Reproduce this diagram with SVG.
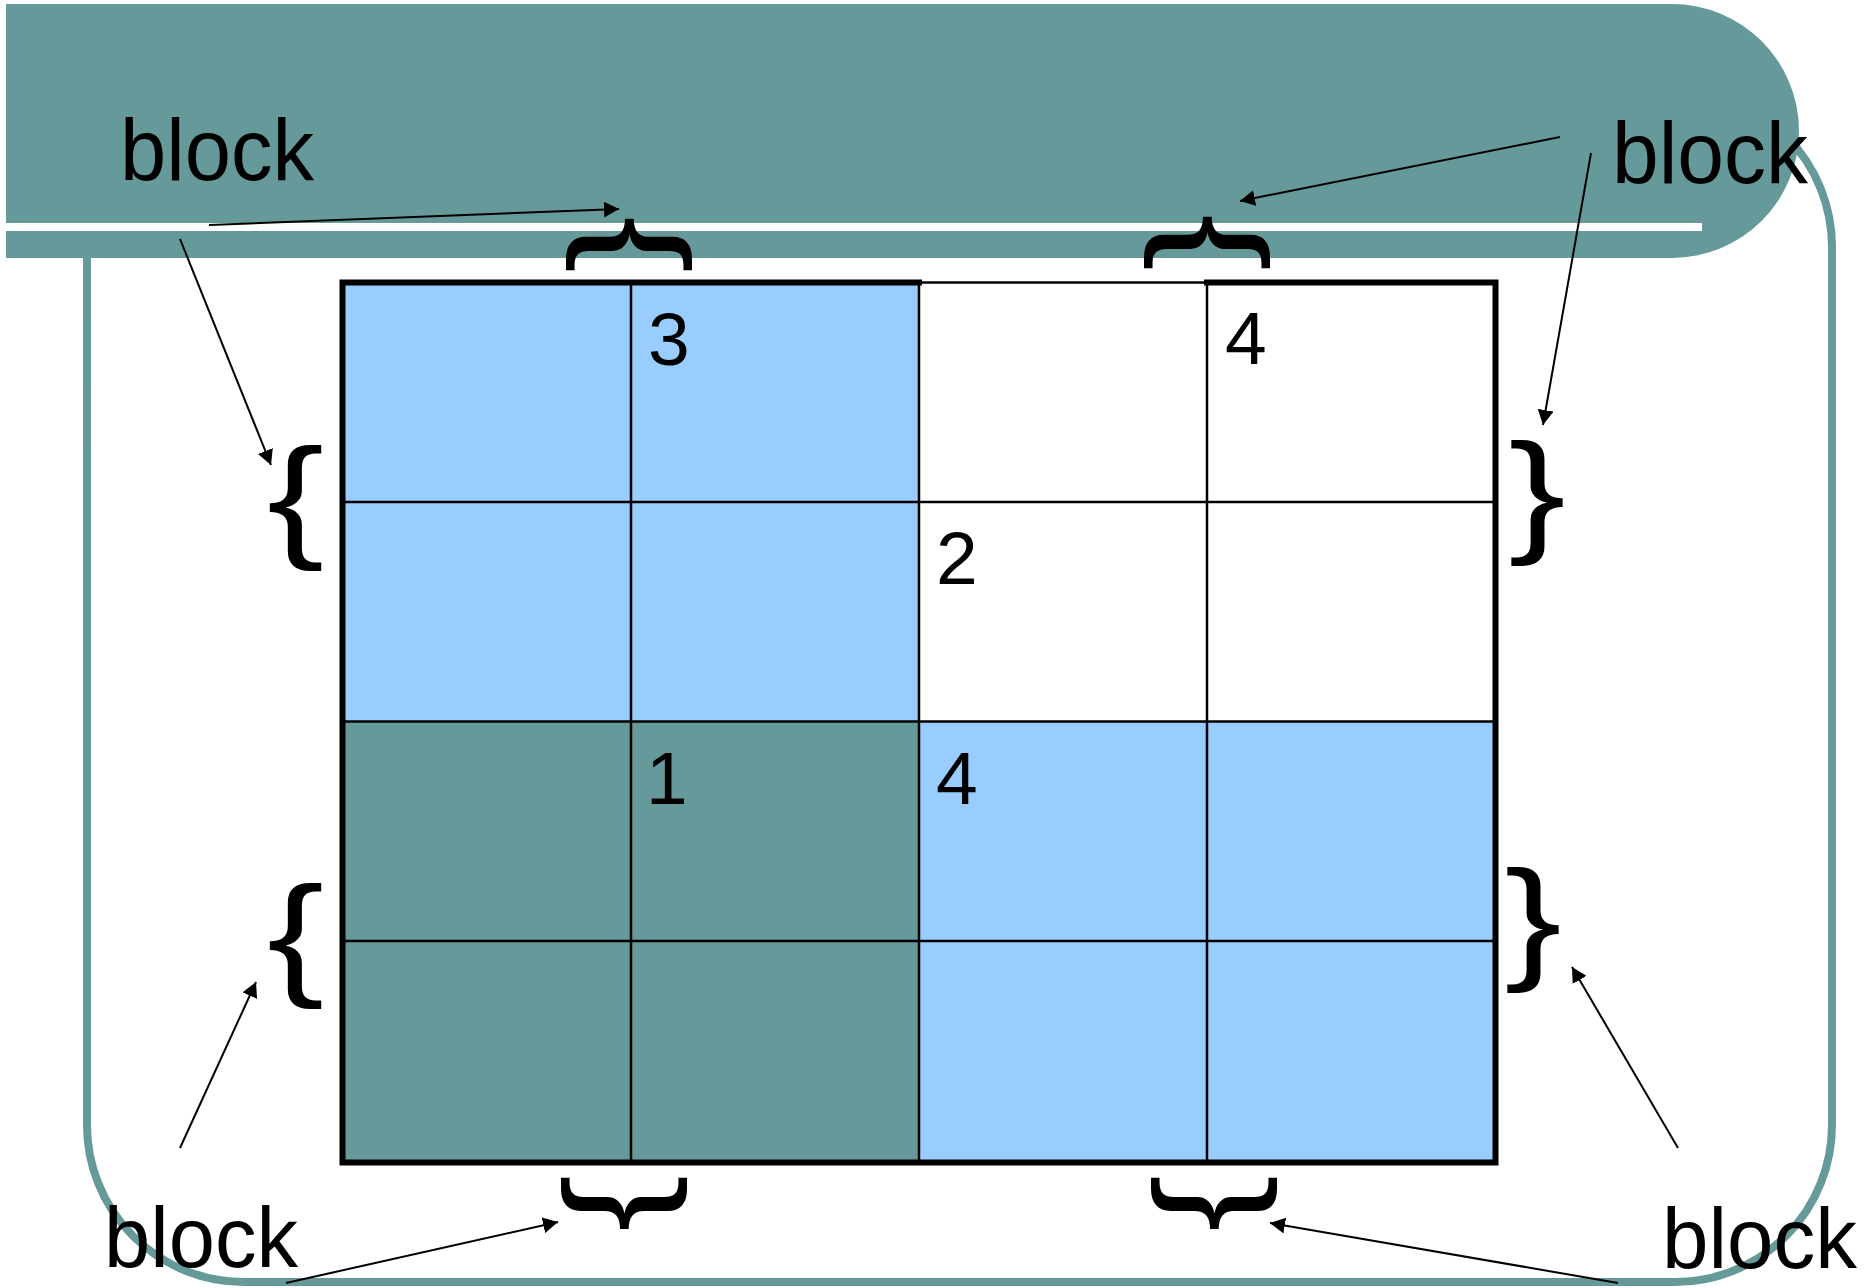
<svg xmlns="http://www.w3.org/2000/svg" width="1866" height="1288" viewBox="0 0 1866 1288">
<defs>
<style>
.teal{fill:#669999}
.blue{fill:#99CCFF}
.thin{stroke:#000;stroke-width:2.5;fill:none}
.thick{stroke:#000;stroke-width:6;fill:none;stroke-linecap:square}
.lbl{font-family:"Liberation Sans",Arial,sans-serif;fill:#000}
.word{font-family:"Liberation Sans",Arial,sans-serif;fill:#000}
.br{font-family:"Liberation Sans",Arial,sans-serif;font-size:136px;fill:#000;text-anchor:middle}
.arr{stroke:#000;stroke-width:2;fill:none;marker-end:url(#ah)}
</style>
<marker id="ah" markerUnits="userSpaceOnUse" markerWidth="16" markerHeight="16" refX="15" refY="8" orient="auto">
<path d="M0,0 L15,8 L0,16 Z" fill="#000"/>
</marker>
</defs>
<rect width="1866" height="1288" fill="#fff"/>
<g id="frame">
<rect x="87" y="90" width="1745" height="1192" rx="157" ry="157" fill="none" stroke="#669999" stroke-width="8"/>
</g>
<g id="header">
<path class="teal" d="M6,4 H1672 A127,127 0 0 1 1672,258 H6 Z"/>
<rect x="6" y="223" width="1696" height="8" fill="#fff"/>
</g>
<g id="grid">
<rect class="blue" x="342.5" y="282.5" width="576.5" height="439"/>
<rect fill="#fff" x="919" y="282.5" width="576.5" height="439"/>
<rect class="teal" x="342.5" y="721.5" width="576.5" height="441"/>
<rect class="blue" x="919" y="721.5" width="576.5" height="441"/>
<path class="thin" d="M631,282.5 V1162.5 M919,282.5 V1162.5 M1207,282.5 V1162.5 M342.5,502 H1495.5 M342.5,721.5 H1495.5 M342.5,941 H1495.5 M919,282.5 H1207"/>
<path class="thick" d="M919,282.5 H342.5 V1162.5 H1495.5 V282.5 H1207"/>
</g>
<g id="cell-labels">
<text class="lbl" x="648" y="365" font-size="75">3</text>
<text class="lbl" x="1225" y="364" font-size="75">4</text>
<text class="lbl" x="936" y="584" font-size="75">2</text>
<text class="lbl" x="646" y="804" font-size="75">1</text>
<text class="lbl" x="936" y="804" font-size="75">4</text>
</g>
<g id="braces">
<text class="br" transform="translate(629,244.5) rotate(90) scale(1.26,1)" x="0" y="35">{</text>
<text class="br" transform="translate(1207,242.5) rotate(90) scale(1.26,1)" x="0" y="35">{</text>
<text class="br" transform="translate(295.5,507.5) scale(1.26,1)" x="0" y="35">{</text>
<text class="br" transform="translate(295.5,945.5) scale(1.26,1)" x="0" y="35">{</text>
<text class="br" transform="translate(1537,502.5) scale(1.26,1)" x="0" y="35">}</text>
<text class="br" transform="translate(1533,930) scale(1.26,1)" x="0" y="35">}</text>
<text class="br" transform="translate(624.5,1203.5) rotate(90) scale(1.26,1)" x="0" y="35">}</text>
<text class="br" transform="translate(1214,1203.5) rotate(90) scale(1.26,1)" x="0" y="35">}</text>
</g>
<g id="connectors">
<line class="arr" x1="209" y1="225" x2="619" y2="209"/>
<line class="arr" x1="180" y1="239" x2="271" y2="465"/>
<line class="arr" x1="1560" y1="137" x2="1240" y2="201"/>
<line class="arr" x1="1591" y1="153" x2="1543" y2="425"/>
<line class="arr" x1="180" y1="1148" x2="256" y2="982"/>
<line class="arr" x1="286" y1="1283" x2="558" y2="1222"/>
<line class="arr" x1="1678" y1="1148" x2="1572" y2="967"/>
<line class="arr" x1="1618" y1="1283" x2="1270" y2="1223"/>
</g>
<g id="block-labels">
<text class="word" x="120" y="180" font-size="88" textLength="194" lengthAdjust="spacingAndGlyphs">block</text>
<text class="word" x="1612" y="183" font-size="88" textLength="196" lengthAdjust="spacingAndGlyphs">block</text>
<text class="word" x="104" y="1267" font-size="85" textLength="194" lengthAdjust="spacingAndGlyphs">block</text>
<text class="word" x="1662" y="1268" font-size="85" textLength="195" lengthAdjust="spacingAndGlyphs">block</text>
</g>
</svg>
